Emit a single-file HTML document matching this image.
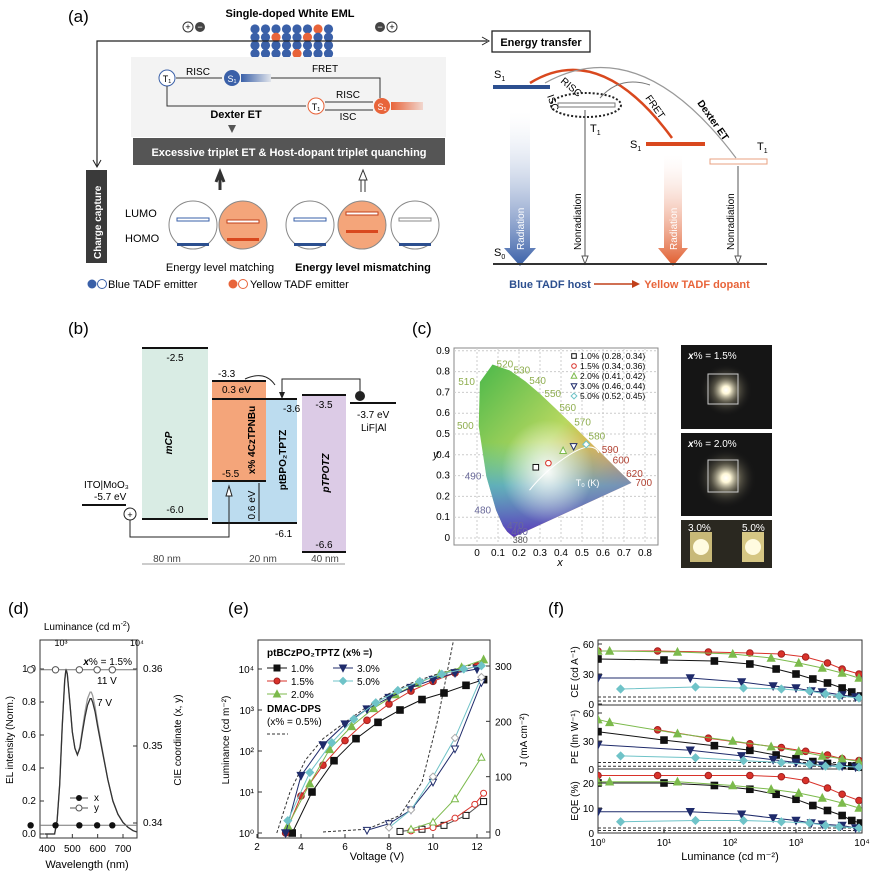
<!DOCTYPE html>
<html><head><meta charset="utf-8"><style>
html,body{margin:0;padding:0;background:#fff}
svg{display:block;font-family:"Liberation Sans",sans-serif}
</style></head><body>
<svg id="fig" width="880" height="879" viewBox="0 0 880 879" xmlns="http://www.w3.org/2000/svg">
<defs>
<linearGradient id="gBlueDown" x1="0" y1="0" x2="0" y2="1"><stop offset="0" stop-color="#fff" stop-opacity="0.2"/><stop offset="1" stop-color="#3a60a8"/></linearGradient>
<linearGradient id="gOrDown" x1="0" y1="0" x2="0" y2="1"><stop offset="0" stop-color="#fff" stop-opacity="0.2"/><stop offset="1" stop-color="#e05a2a"/></linearGradient>
<linearGradient id="gBlueR" x1="0" x2="1"><stop offset="0" stop-color="#3a60a8"/><stop offset="1" stop-color="#3a60a8" stop-opacity="0.1"/></linearGradient>
<linearGradient id="gOrR" x1="0" x2="1"><stop offset="0" stop-color="#e8643a"/><stop offset="1" stop-color="#e8643a" stop-opacity="0.2"/></linearGradient>
<linearGradient id="gCie" x1="0" y1="0" x2="1" y2="1"><stop offset="0" stop-color="#4bb84a"/><stop offset="0.45" stop-color="#b8d860"/><stop offset="0.7" stop-color="#f5a050"/><stop offset="1" stop-color="#e8305a"/></linearGradient>
<linearGradient id="gCieB" x1="0" y1="0" x2="0" y2="1"><stop offset="0.45" stop-color="#30c0d0" stop-opacity="0"/><stop offset="0.7" stop-color="#40a0e0" stop-opacity="0.7"/><stop offset="1" stop-color="#5030c0" stop-opacity="0.95"/></linearGradient>
<radialGradient id="gCieW" cx="0.45" cy="0.62" r="0.3"><stop offset="0" stop-color="#fff" stop-opacity="0.95"/><stop offset="1" stop-color="#fff" stop-opacity="0"/></radialGradient>
<radialGradient id="gGlow" cx="0.5" cy="0.5" r="0.5"><stop offset="0" stop-color="#fff"/><stop offset="0.15" stop-color="#fff8d8"/><stop offset="0.5" stop-color="#7a7560" stop-opacity="0.6"/><stop offset="1" stop-color="#1a1a1a" stop-opacity="0"/></radialGradient>
<clipPath id="clipE"><rect x="258" y="640" width="232" height="198"/></clipPath>
<clipPath id="clipD"><rect x="40" y="640" width="97" height="198"/></clipPath>
<clipPath id="clipF"><rect x="598" y="640" width="264" height="193"/></clipPath>
</defs>

<!-- ===== Panel (a) ===== -->
<g font-size="11">
<text x="68" y="22" font-size="17">(a)</text>
<text x="290" y="17" text-anchor="middle" font-weight="bold" font-size="11">Single-doped White EML</text>
<g><circle cx="188" cy="27" r="5" fill="#fff" stroke="#333"/><text x="188" y="30" font-size="9" text-anchor="middle">+</text><circle cx="200" cy="27" r="5" fill="#444"/><text x="200" y="30" font-size="9" fill="#fff" text-anchor="middle">−</text></g>
<g><circle cx="380" cy="27" r="5" fill="#444"/><text x="380" y="30" font-size="9" fill="#fff" text-anchor="middle">−</text><circle cx="392" cy="27" r="5" fill="#fff" stroke="#333"/><text x="392" y="30" font-size="9" text-anchor="middle">+</text></g>
<g id="dots"></g>
<path d="M97,166 V41 H487" fill="none" stroke="#222" stroke-width="1.2"/>
<path d="M482,37 L489,41 L482,45" fill="none" stroke="#222"/>
<path d="M93,160 L97,167 L101,160" fill="none" stroke="#222"/>
<rect x="492" y="31" width="98" height="21" fill="#fff" stroke="#222" stroke-width="1.3"/>
<text x="541" y="46" text-anchor="middle" font-weight="bold" font-size="11">Energy transfer</text>
<rect x="86" y="170" width="21" height="93" fill="#3a3a3a"/>
<text transform="translate(101,259) rotate(-90)" fill="#fff" font-weight="bold" font-size="10">Charge capture</text>
<rect x="131" y="57" width="315" height="80" fill="#f3f3f3"/>
<circle cx="167" cy="78" r="8" fill="#fff" stroke="#3a60a8"/><text x="167" y="82" text-anchor="middle" font-size="9">T₁</text>
<text x="198" y="75" font-size="10" text-anchor="middle">RISC</text>
<line x1="176" y1="78" x2="222" y2="78" stroke="#333"/>
<circle cx="232" cy="78" r="8" fill="#3a60a8"/><text x="232" y="82" text-anchor="middle" font-size="9" fill="#fff">S₁</text>
<rect x="241" y="74" width="30" height="8" fill="url(#gBlueR)"/>
<path d="M271,78 H380 V98" fill="none" stroke="#333"/><text x="325" y="72" font-size="10" text-anchor="middle">FRET</text>
<path d="M167,86 V106 H306" fill="none" stroke="#333"/>
<circle cx="316" cy="106" r="8" fill="#fff" stroke="#e8643a"/><text x="316" y="110" text-anchor="middle" font-size="9">T₁</text>
<circle cx="382" cy="106" r="8" fill="#e8643a"/><text x="382" y="110" text-anchor="middle" font-size="9" fill="#fff">S₁</text>
<line x1="325" y1="102" x2="373" y2="102" stroke="#333"/><line x1="325" y1="110" x2="373" y2="110" stroke="#333"/>
<text x="348" y="98" font-size="10" text-anchor="middle">RISC</text><text x="348" y="120" font-size="10" text-anchor="middle">ISC</text>
<rect x="391" y="102" width="32" height="8" fill="url(#gOrR)"/>
<text x="236" y="118" font-weight="bold" font-size="11" text-anchor="middle">Dexter ET</text>
<path d="M228,125 L236,125 L232,133 Z" fill="#555"/>
<rect x="133" y="138" width="312" height="27" fill="#555"/>
<text x="289" y="156" text-anchor="middle" fill="#fff" font-weight="bold" font-size="11">Excessive triplet ET &amp; Host-dopant triplet quanching</text>
<path d="M216,182 L220,172 L224,182 M220,172 V190" stroke="#333" stroke-width="3" fill="none"/>
<path d="M359,180 L363,170 L367,180 Z M361,180 V192 M365,180 V192" stroke="#333" fill="none"/>
<g>
<text x="125" y="217" font-size="11">LUMO</text><text x="125" y="242" font-size="11">HOMO</text>
<circle cx="193" cy="225" r="24" fill="#fff" stroke="#888"/><circle cx="243" cy="225" r="24" fill="#f4a57a" stroke="#888"/>
<circle cx="310" cy="225" r="24" fill="#fff" stroke="#888"/><circle cx="362" cy="225" r="24" fill="#f4a57a" stroke="#888"/><circle cx="415" cy="225" r="24" fill="#fff" stroke="#888"/>
<rect x="177" y="218" width="32" height="3" fill="#fff" stroke="#3a60a8"/><rect x="177" y="243" width="32" height="3" fill="#2c4f8f"/>
<rect x="227" y="220" width="32" height="3" fill="#fff" stroke="#c0401a"/><rect x="227" y="238" width="32" height="3" fill="#d9481e"/>
<rect x="294" y="218" width="32" height="3" fill="#fff" stroke="#3a60a8"/><rect x="294" y="243" width="32" height="3" fill="#2c4f8f"/>
<rect x="346" y="212" width="32" height="3" fill="#fff" stroke="#c0401a"/><rect x="346" y="230" width="32" height="3" fill="#d9481e"/>
<rect x="399" y="218" width="32" height="3" fill="#fff" stroke="#888"/><rect x="399" y="243" width="32" height="3" fill="#2c4f8f"/>
</g>
<text x="220" y="271" text-anchor="middle" font-size="11">Energy level matching</text>
<text x="363" y="271" text-anchor="middle" font-size="11" font-weight="bold">Energy level mismatching</text>
<g>
<circle cx="92" cy="284" r="4.5" fill="#3a60a8"/><circle cx="102" cy="284" r="4.5" fill="#fff" stroke="#3a60a8"/><text x="108" y="288" font-size="11">Blue TADF emitter</text>
<circle cx="233" cy="284" r="4.5" fill="#e8643a"/><circle cx="243" cy="284" r="4.5" fill="#fff" stroke="#e8643a"/><text x="250" y="288" font-size="11">Yellow TADF emitter</text>
</g>
<g>
<text x="494" y="78" font-size="11">S<tspan font-size="7" dy="3">1</tspan></text>
<rect x="493" y="85" width="57" height="4" fill="#2c4f8f"/>
<ellipse cx="586" cy="105" rx="35" ry="12" fill="none" stroke="#222" stroke-width="2" stroke-dasharray="2,2"/>
<rect x="558" y="103" width="57" height="4" fill="#fff" stroke="#777"/>
<text x="590" y="132" font-size="11">T<tspan font-size="7" dy="3">1</tspan></text>
<path d="M510,112 L530,112 L530,248 L536,248 L520,266 L504,248 L510,248 Z" fill="url(#gBlueDown)"/>
<text transform="translate(524,250) rotate(-90)" fill="#fff" font-size="10">Radiation</text>
<line x1="585" y1="110" x2="585" y2="262" stroke="#555"/><path d="M582,256 L585,264 L588,256 Z" fill="#fff" stroke="#555"/>
<text transform="translate(581,250) rotate(-90)" font-size="10">Nonradiation</text>
<text x="630" y="148" font-size="11">S<tspan font-size="7" dy="3">1</tspan></text>
<rect x="646" y="142" width="59" height="4" fill="#d9481e"/>
<rect x="710" y="159" width="57" height="5" fill="#fff" stroke="#e8a080"/>
<text x="757" y="150" font-size="11">T<tspan font-size="7" dy="3">1</tspan></text>
<path d="M664,155 L682,155 L682,248 L688,248 L673,266 L658,248 L664,248 Z" fill="url(#gOrDown)"/>
<text transform="translate(677,250) rotate(-90)" fill="#fff" font-size="10">Radiation</text>
<line x1="738" y1="166" x2="738" y2="262" stroke="#555"/><path d="M735,256 L738,264 L741,256 Z" fill="#fff" stroke="#555"/>
<text transform="translate(734,250) rotate(-90)" font-size="10">Nonradiation</text>
<rect x="493" y="263" width="274" height="2" fill="#333"/>
<text x="494" y="256" font-size="11">S<tspan font-size="7" dy="3">0</tspan></text>
<path d="M530,83 Q600,40 672,138" fill="none" stroke="#d9481e" stroke-width="2.5"/>
<path d="M545,83 Q640,30 736,158" fill="none" stroke="#999" stroke-width="1.2"/>
<path d="M600,98 Q620,75 650,85" fill="none" stroke="#777"/>
<text transform="translate(645,98) rotate(55)" font-size="10">FRET</text>
<text transform="translate(697,103) rotate(55)" font-size="10" font-weight="bold">Dexter ET</text>
<text transform="translate(560,82) rotate(40)" font-size="10">RISC</text>
<text transform="translate(547,96) rotate(70)" font-size="10">ISC</text>
<text x="550" y="288" font-size="11" font-weight="bold" fill="#2c4f8f" text-anchor="middle">Blue TADF host</text>
<line x1="594" y1="284" x2="636" y2="284" stroke="#c0401a" stroke-width="1.5"/><path d="M632,280 L640,284 L632,288 Z" fill="#c0401a"/>
<text x="697" y="288" font-size="11" font-weight="bold" fill="#e8643a" text-anchor="middle">Yellow TADF dopant</text>
</g>
</g>

<!-- ===== Panel (b) ===== -->
<g font-size="10">
<text x="68" y="334" font-size="17">(b)</text>
<rect x="142" y="348" width="66" height="171" fill="#d9ece4"/>
<line x1="142" y1="348" x2="208" y2="348" stroke="#111" stroke-width="2"/><line x1="142" y1="519" x2="208" y2="519" stroke="#111" stroke-width="2"/>
<text x="175" y="361" text-anchor="middle">-2.5</text><text x="175" y="513" text-anchor="middle">-6.0</text>
<text transform="translate(172,443) rotate(-90)" font-weight="bold" font-style="italic" font-size="10" text-anchor="middle">mCP</text>
<rect x="212" y="399" width="85" height="124" fill="#bcdcef"/>
<rect x="212" y="381" width="54" height="100" fill="#f4a57a"/>
<line x1="212" y1="381" x2="266" y2="381" stroke="#111" stroke-width="2"/><line x1="212" y1="399" x2="297" y2="399" stroke="#111" stroke-width="2"/>
<line x1="212" y1="481" x2="266" y2="481" stroke="#111" stroke-width="2"/><line x1="212" y1="523" x2="297" y2="523" stroke="#111" stroke-width="2"/>
<text x="218" y="377">-3.3</text><text x="222" y="393">0.3 eV</text><text x="222" y="477">-5.5</text><text x="283" y="412">-3.6</text><text x="275" y="537">-6.1</text>
<text transform="translate(255,440) rotate(-90)" font-weight="bold" font-size="10" text-anchor="middle">x% 4CzTPNBu</text>
<text transform="translate(286,460) rotate(-90)" font-weight="bold" font-size="10" text-anchor="middle">ptBPO₂TPTZ</text>
<text transform="translate(255,505) rotate(-90)" font-size="10" text-anchor="middle">0.6 eV</text>
<line x1="259" y1="483" x2="259" y2="521" stroke="#111"/>
<rect x="302" y="395" width="44" height="157" fill="#dccbe6"/>
<line x1="302" y1="395" x2="346" y2="395" stroke="#111" stroke-width="2"/><line x1="302" y1="552" x2="346" y2="552" stroke="#111" stroke-width="2"/>
<text x="324" y="408" text-anchor="middle">-3.5</text><text x="324" y="548" text-anchor="middle">-6.6</text>
<text transform="translate(329,473) rotate(-90)" font-weight="bold" font-style="italic" font-size="10" text-anchor="middle">pTPOTZ</text>
<line x1="350" y1="403" x2="396" y2="403" stroke="#111" stroke-width="2"/><circle cx="360" cy="396" r="5" fill="#222"/>
<path d="M360,391 V379 H282 V392" fill="none" stroke="#222"/><path d="M279,392 L282,399 L285,392 Z" fill="#222"/>
<path d="M275,385 Q265,370 245,379" fill="none" stroke="#222"/>
<text x="357" y="418">-3.7 eV</text><text x="361" y="431">LiF|Al</text>
<line x1="82" y1="505" x2="126" y2="505" stroke="#111" stroke-width="2"/>
<text x="84" y="488">ITO|MoO₃</text><text x="94" y="500">-5.7 eV</text>
<circle cx="130" cy="514" r="6" fill="#fff" stroke="#222"/><text x="130" y="518" text-anchor="middle" font-size="9">+</text>
<path d="M130,520 V537 H229 V490" fill="none" stroke="#222"/><path d="M226,496 L229,486 L232,496 Z" fill="#fff" stroke="#222"/>
<g fill="#444" font-size="10">
<line x1="142" y1="564" x2="345" y2="564" stroke="#999"/>
<text x="167" y="562" text-anchor="middle">80 nm</text><text x="263" y="562" text-anchor="middle">20 nm</text><text x="325" y="562" text-anchor="middle">40 nm</text>
</g>
</g>

<!-- ===== Panel (c) ===== -->
<g font-size="10">
<text x="412" y="334" font-size="17">(c)</text>
<rect x="454" y="348" width="204" height="197" fill="#fff" stroke="#888"/>
<g id="cieGrid"></g>
<path id="locus" fill="url(#gCie)"/>
<path id="locusB" fill="url(#gCieB)"/>
<path id="locusW" fill="url(#gCieW)"/>
<g id="cieAx"></g>
<text x="433" y="458" font-size="11" font-style="italic">y</text>
<text x="560" y="566" font-size="11" font-style="italic" text-anchor="middle">x</text>
<g id="cieLeg"></g>
<g>
<rect x="681" y="345" width="91" height="84" fill="#151515"/><circle cx="726" cy="390" r="26" fill="url(#gGlow)"/><rect x="708" y="374" width="30" height="30" fill="none" stroke="#ccc"/>
<text x="688" y="359" fill="#fff" font-size="10"><tspan font-weight="bold" font-style="italic">x</tspan>% = 1.5%</text>
<rect x="681" y="433" width="91" height="83" fill="#151515"/><circle cx="726" cy="478" r="30" fill="url(#gGlow)"/><rect x="708" y="460" width="30" height="32" fill="none" stroke="#ccc"/>
<text x="688" y="447" fill="#fff" font-size="10"><tspan font-weight="bold" font-style="italic">x</tspan>% = 2.0%</text>
<rect x="681" y="520" width="91" height="48" fill="#2a2820"/><rect x="690" y="532" width="22" height="30" fill="#c8b978"/><rect x="742" y="532" width="22" height="30" fill="#d6c784"/>
<circle cx="701" cy="547" r="8" fill="#fffbe0"/><circle cx="753" cy="547" r="8" fill="#fffbe0"/>
<text x="688" y="531" fill="#fff" font-size="10">3.0%</text><text x="742" y="531" fill="#fff" font-size="10">5.0%</text>
</g>
</g>

<!-- ===== Panel (d) ===== -->
<g font-size="10">
<text x="8" y="614" font-size="17">(d)</text>
<rect x="40" y="640" width="97" height="198" fill="none" stroke="#333"/>
<g id="dPlot"></g>
<text x="87" y="630" text-anchor="middle" font-size="10">Luminance (cd m<tspan font-size="7" dy="-4">-2</tspan><tspan dy="4">)</tspan></text>
<text transform="translate(13,740) rotate(-90)" text-anchor="middle">EL intensity (Norm.)</text>
<text transform="translate(181,740) rotate(-90)" text-anchor="middle">CIE coordinate (x, y)</text>
<text x="87" y="868" text-anchor="middle" font-size="11">Wavelength (nm)</text>
<text x="132" y="665" text-anchor="end"><tspan font-weight="bold" font-style="italic">x</tspan>% = 1.5%</text>
<text x="97" y="684">11 V</text><text x="97" y="706">7 V</text>
</g>

<!-- ===== Panel (e) ===== -->
<g font-size="10">
<text x="228" y="614" font-size="17">(e)</text>
<rect x="258" y="640" width="232" height="198" fill="none" stroke="#333"/>
<g id="ePlot"></g>
<text transform="translate(229,740) rotate(-90)" text-anchor="middle">Luminance (cd m⁻²)</text>
<text transform="translate(527,740) rotate(-90)" text-anchor="middle">J (mA cm⁻²)</text>
<text x="377" y="860" text-anchor="middle" font-size="11">Voltage (V)</text>
<g id="eLeg"></g>
</g>

<!-- ===== Panel (f) ===== -->
<g font-size="10">
<text x="548" y="614" font-size="17">(f)</text>
<rect x="598" y="640" width="264" height="193" fill="none" stroke="#333"/>
<line x1="598" y1="705" x2="862" y2="705" stroke="#333"/><line x1="598" y1="769" x2="862" y2="769" stroke="#333"/>
<g id="fPlot"></g>
<text transform="translate(578,672) rotate(-90)" text-anchor="middle">CE (cd A⁻¹)</text>
<text transform="translate(578,737) rotate(-90)" text-anchor="middle">PE (lm W⁻¹)</text>
<text transform="translate(578,801) rotate(-90)" text-anchor="middle">EQE (%)</text>
<text x="730" y="860" text-anchor="middle" font-size="11">Luminance (cd m⁻²)</text>
</g>
</svg>

<script>
// ---------- data ----------
const colors = ['#111111','#d9322a','#7cba4c','#1f2b6b','#6fc3c8'];
const seriesNames = ['1.0%','1.5%','2.0%','3.0%','5.0%'];
const markerTypes = ['square','circle','tri','itri','diamond'];
// (d)
const elWavelength = [390,420,430,440,450,460,470,475,480,490,500,510,520,530,540,550,560,570,575,580,590,600,620,640,660,680,700,720,740,760];
const elSpec7V =  [0,0,0,0.08,0.3,0.65,0.93,1.0,0.97,0.8,0.62,0.52,0.48,0.52,0.62,0.71,0.78,0.82,0.82,0.8,0.74,0.65,0.49,0.33,0.2,0.12,0.07,0.04,0.02,0.01];
const elSpec11V = [0,0,0,0.08,0.3,0.65,0.93,1.0,0.97,0.8,0.62,0.52,0.48,0.53,0.64,0.74,0.82,0.86,0.86,0.84,0.77,0.67,0.5,0.33,0.2,0.12,0.07,0.04,0.02,0.01];
const cieLum = [800,1700,3500,6000,9500];
const cieX = [0.3397,0.3397,0.3397,0.3397,0.3397];
const cieY = [0.3599,0.3599,0.3599,0.3599,0.3599];
const dLeftTicks = ['0.0','0.2','0.4','0.6','0.8','1.0'];
const dLeftVals = [0,0.2,0.4,0.6,0.8,1.0];
const dRightVals = [0.34,0.35,0.36];
const dBottomVals = [400,500,600,700];
// (e)
const eLumV = [
 [3.6,4.5,5.5,6.5,7.5,8.5,9.5,10.5,11.5,12.3],
 [3.3,4,5,6,7,8,9,10,11,12],
 [3.4,4.4,5.3,6.3,7.3,8.3,9.3,10.3,11.3,12.3],
 [3.3,4,5,6,7,8,9,10,11,12],
 [3.4,4.4,5.4,6.4,7.4,8.4,9.4,10.4,11.4,12.2]];
const eLum = [
 [1,10,58,200,500,1000,1800,2600,4000,5500],
 [1,8,45,180,560,1400,2900,5000,8000,12000],
 [1.5,16,110,400,1100,2400,4500,7500,11000,17000],
 [1,25,140,450,1050,2000,3500,5500,8000,10000],
 [2,30,160,600,1500,3000,5000,7500,10000,12000]];
const eJV = [
 [8.5,9.5,10.5,11.5,12.3],
 [9,10,11,11.9,12.3],
 [9,10,11,12.2],
 [7,8,9,10,11,12.2],
 [8,9,10,11,12.2]];
const eJ = [
 [1,5,12,30,55],
 [2,8,25,50,70],
 [5,18,60,135],
 [3,15,40,90,150,270],
 [8,40,100,170,280]];
const dmacLumV = [2.9,3.5,4.2,5,6,7,8,9,10,11,12.3];
const dmacLum = [1,10,60,200,500,1200,2500,4500,7000,10000,15000];
const dmacJV = [5,7,8.5,9.5,10.2,10.8,11.2];
const dmacJ = [0,5,30,90,200,320,400];
const eXTicks = [2,4,6,8,10,12];
const eYTicks = [0,1,2,3,4];
const eJTicks = [0,100,200,300];
// (f)
const fL = [
 [1,10,58,200,500,1000,1800,3000,5000,7000,9500],
 [1,8,47,200,600,1400,3000,5000,9000],
 [1,1.5,16,110,420,1100,2500,5000,9000],
 [1,25,150,450,1000,1700,2500,5000,8000],
 [2.2,30,160,600,1600,2800,4500,9000]];
const fLpe = [
 [1,10,58,200,500,1000,1800,3000,5000,7000,9500],
 [8,47,200,600,1400,3000,5000,9000],
 [1,1.5,16,110,420,1100,2500,5000,9000],
 [1,25,150,450,1000,1700,2500,5000,8000],
 [2.2,30,160,600,1600,2800,4500,9000]];
const ceVals = [
 [45,44,43,40,35,30,25,21,16,12,8],
 [53,53,52,51,50,47,41,35,30],
 [53,53,52,50,46,41,36,31,26],
 [26,26,22,18,16,13,12,9,7],
 [15,17,16,15,13,10,8,6]];
const peVals = [
 [40,31,25,20,15,11,8,6,4,3,2],
 [42,33,27,23,19,15,11,9],
 [53,50,38,30,24,19,14,11,8],
 [26,20,14,10,7,5,4,3,2],
 [14,12,9,7,5,3,3,2]];
const eqeVals = [
 [20,20,19,17.5,15.5,13.5,11,9,7,5,4],
 [23,23,23,23,22.5,21,18,15.5,13],
 [20.5,20.5,20.5,19,17.5,16,14,12,10],
 [8.5,8.5,7.5,6,5,4,3.5,3,2],
 [4.5,5,5,4.5,4,3,2.5,2]];
const dmacCE = [7,3]; const dmacPE = [7,3]; const dmacEQE = [2,1];
const fXTicks = [0,1,2,3,4];
const ceTicks = [0,30,60]; const peTicks = [0,30,60]; const eqeTicks = [0,10,20];
// (c)
const locusX = [0.174,0.144,0.124,0.091,0.045,0.008,0.014,0.074,0.155,0.230,0.302,0.373,0.444,0.512,0.575,0.627,0.691,0.735];
const locusY = [0.005,0.030,0.058,0.133,0.295,0.538,0.750,0.834,0.806,0.754,0.692,0.624,0.555,0.487,0.424,0.372,0.308,0.265];
const locusNm = ['380','460','470','480','490','500','510','520','530','540','550','560','570','580','590','600','620','700'];
const devCIEx = [0.28,0.34,0.41,0.46,0.52];
const devCIEy = [0.34,0.36,0.42,0.44,0.45];
const cieTicksX = [0,0.1,0.2,0.3,0.4,0.5,0.6,0.7,0.8];
const cieTicksY = [0,0.1,0.2,0.3,0.4,0.5,0.6,0.7,0.8,0.9];

// ---------- helpers ----------
const NS='http://www.w3.org/2000/svg';
function mk(parent, tag, attrs, text){const e=document.createElementNS(NS,tag);for(const k in attrs)e.setAttribute(k,attrs[k]);if(text!==undefined)e.textContent=text;parent.appendChild(e);return e;}
function pathD(xs,ys){return xs.map((x,i)=>(i?'L':'M')+x.toFixed(1)+','+ys[i].toFixed(1)).join(' ');}
function marker(g,type,x,y,col,filled,s){
  s=s||3.3;const f=filled?col:'#fff';let e;
  if(type==='square')e=mk(g,'rect',{x:x-s,y:y-s,width:2*s,height:2*s,fill:f,stroke:col});
  else if(type==='circle')e=mk(g,'circle',{cx:x,cy:y,r:s,fill:f,stroke:filled?'#a02020':col});
  else if(type==='tri')e=mk(g,'path',{d:`M${x},${y-s-0.7}L${x+s+0.5},${y+s}L${x-s-0.5},${y+s}Z`,fill:f,stroke:col});
  else if(type==='itri')e=mk(g,'path',{d:`M${x},${y+s+0.7}L${x+s+0.5},${y-s}L${x-s-0.5},${y-s}Z`,fill:f,stroke:col});
  else e=mk(g,'path',{d:`M${x},${y-s-0.6}L${x+s+0.6},${y}L${x},${y+s+0.6}L${x-s-0.6},${y}Z`,fill:f,stroke:col});
  return e;
}

// ---------- (a) dots ----------
(function(){
  const g=document.getElementById('dots');
  const orange=[[0,6],[1,2],[1,5],[3,4]];
  for(let r=0;r<4;r++)for(let c=0;c<8;c++){
    const isO=orange.some(p=>p[0]===r&&p[1]===c);
    const d=mk(g,'circle',{cx:255+c*10.5,cy:29+r*8.2,r:4.6,fill:isO?'#e8643a':'#3a60a8'});
    
    
  }
})();

// ---------- (c) CIE ----------
const cx=v=>477+210*v, cy=v=>538-208*v;
(function(){
  const gg=document.getElementById('cieGrid');
  cieTicksX.forEach(v=>{mk(gg,'line',{x1:cx(v),y1:348,x2:cx(v),y2:545,stroke:'#ccc','stroke-dasharray':'2,2'});});
  cieTicksY.forEach(v=>{mk(gg,'line',{x1:454,y1:cy(v),x2:658,y2:cy(v),stroke:'#ccc','stroke-dasharray':'2,2'});});
  const d=pathD(locusX.map(cx),locusY.map(cy))+'Z';
  ['locus','locusB','locusW'].forEach(id=>document.getElementById(id).setAttribute('d',d));
  const ga=document.getElementById('cieAx');
  cieTicksX.forEach(v=>{const t=mk(ga,'text',{x:cx(v),y:556,'text-anchor':'middle','font-size':10},String(v));
    
    });
  cieTicksY.forEach(v=>{const t=mk(ga,'text',{x:450,y:cy(v)+3,'text-anchor':'end','font-size':10},String(v));
    
    });
  locusNm.forEach((n,i)=>{if(n==='380')return;const x=cx(locusX[i]),y=cy(locusY[i]);
    const left=locusX[i]<0.1&&locusY[i]<0.8;
    const col=locusY[i]>0.45?'#8fae50':(locusX[i]>0.5?'#b04030':'#6a6a9a');
    const t=mk(ga,'text',{x:left?x-5:x+4,y:y+3,'text-anchor':left?'end':'start','font-size':10,fill:col},n);
    
    });
  mk(ga,'text',{x:cx(0.17),y:cy(-0.01)+3,'font-size':9,fill:'#555'},'380');
  mk(ga,'text',{x:cx(0.47),y:cy(0.25),'font-size':9,fill:'#fff'},'T₀ (K)');
  mk(ga,'path',{d:`M${cx(0.25)},${cy(0.23)} Q${cx(0.33)},${cy(0.33)} ${cx(0.44)},${cy(0.40)} T${cx(0.58)},${cy(0.41)}`,fill:'none',stroke:'#fff'});
  const gl=document.getElementById('cieLeg');
  devCIEx.forEach((v,i)=>{const m=marker(gl,markerTypes[i],cx(v),cy(devCIEy[i]),i===0?'#111':colors[i],false,2.8);
    
    
    marker(gl,markerTypes[i],574,356+i*10,i===0?'#111':colors[i],false,2.3);
    const t=mk(gl,'text',{x:580,y:359+i*10,'font-size':8.5},seriesNames[i]+' ('+v.toFixed(2)+', '+devCIEy[i].toFixed(2)+')');
    
    });
})();

// ---------- (d) ----------
const xw=nm=>47+(nm-400)*76/300, yEL=v=>834-165*v, xl=L=>61+76*Math.log10(L/1000), yc=c=>823-7700*(c-0.34);
(function(){
  const g=document.getElementById('dPlot');
  dLeftVals.forEach((v,i)=>{mk(g,'line',{x1:40,y1:yEL(v),x2:44,y2:yEL(v),stroke:'#333'});
    const t=mk(g,'text',{x:36,y:yEL(v)+3,'text-anchor':'end'},dLeftTicks[i]);
    
    });
  dRightVals.forEach(v=>{mk(g,'line',{x1:133,y1:yc(v),x2:137,y2:yc(v),stroke:'#333'});
    const t=mk(g,'text',{x:143,y:yc(v)+3},v.toFixed(2));
    
    });
  dBottomVals.forEach(v=>{mk(g,'line',{x1:xw(v),y1:838,x2:xw(v),y2:834,stroke:'#333'});
    const t=mk(g,'text',{x:xw(v),y:852,'text-anchor':'middle'},String(v));
    
    });
  [1000,10000].forEach((v,i)=>{const t=mk(g,'text',{x:xl(v),y:646,'text-anchor':'middle','font-size':9},i?'10⁴':'10³');
    
    });
  const cg=mk(g,'g',{'clip-path':'url(#clipD)'});
  const s1=mk(cg,'path',{d:pathD(elWavelength.map(xw),elSpec11V.map(yEL)),fill:'none',stroke:'#999',"stroke-width":1.3});
  
  
  const s2=mk(cg,'path',{d:pathD(elWavelength.map(xw),elSpec7V.map(yEL)),fill:'none',stroke:'#333',"stroke-width":1.3});
  
  
  const lx=mk(cg,'path',{d:pathD([40,137],[yc(cieX[0]),yc(cieX[0])]),stroke:'#777',fill:'none'});
  
  
  const ly=mk(cg,'path',{d:pathD([40,137],[yc(cieY[0]),yc(cieY[0])]),stroke:'#777',fill:'none'});
  
  
  cieLum.forEach((L,i)=>{
    const a=mk(g,'circle',{cx:xl(L)-23,cy:yc(cieX[i]),r:3.2,fill:'#111'});
    
    
    const b=mk(g,'circle',{cx:xl(L)-23,cy:yc(cieY[i]),r:3.2,fill:'#fff',stroke:'#555'});
    
    });
  mk(g,'line',{x1:70,y1:798,x2:88,y2:798,stroke:'#555'});mk(g,'circle',{cx:79,cy:798,r:3,fill:'#111'});mk(g,'text',{x:94,y:801},'x');
  mk(g,'line',{x1:70,y1:808,x2:88,y2:808,stroke:'#555'});mk(g,'circle',{cx:79,cy:808,r:3,fill:'#fff',stroke:'#555'});mk(g,'text',{x:94,y:811},'y');
})();

// ---------- (e) ----------
const xe=V=>257+22*(V-2), ye=L=>833-41*Math.log10(L), yj=J=>832-J*166/300;
(function(){
  const g=document.getElementById('ePlot');
  eXTicks.forEach(v=>{mk(g,'line',{x1:xe(v),y1:838,x2:xe(v),y2:834,stroke:'#333'});
    const t=mk(g,'text',{x:xe(v),y:850,'text-anchor':'middle'},String(v));
    
    });
  eYTicks.forEach(v=>{mk(g,'line',{x1:258,y1:ye(Math.pow(10,v)),x2:262,y2:ye(Math.pow(10,v)),stroke:'#333'});
    const t=mk(g,'text',{x:254,y:ye(Math.pow(10,v))+4,'text-anchor':'end'},'10'+['⁰','¹','²','³','⁴'][v]);
    
    });
  eJTicks.forEach(v=>{mk(g,'line',{x1:486,y1:yj(v),x2:490,y2:yj(v),stroke:'#333'});
    const t=mk(g,'text',{x:495,y:yj(v)+4},String(v));
    
    });
  const cg=mk(g,'g',{'clip-path':'url(#clipE)'});
  const d1=mk(cg,'path',{d:pathD(dmacLumV.map(xe),dmacLum.map(ye)),fill:'none',stroke:'#333','stroke-dasharray':'3,2'});
  
  
  const d2=mk(cg,'path',{d:pathD(dmacJV.map(xe),dmacJ.map(yj)),fill:'none',stroke:'#333','stroke-dasharray':'3,2'});
  
  
  for(let s=0;s<5;s++){
    const col=colors[s];
    const lj=mk(cg,'path',{d:pathD(eJV[s].map(xe),eJ[s].map(yj)),fill:'none',stroke:s===0?'#555':col});
    
    
    eJV[s].forEach((v,i)=>{const m=marker(cg,markerTypes[s],xe(v),yj(eJ[s][i]),s===4?'#aaa':col,false,3);
      
      });
    const ll=mk(cg,'path',{d:pathD(eLumV[s].map(xe),eLum[s].map(ye)),fill:'none',stroke:col});
    
    
    eLumV[s].forEach((v,i)=>{const m=marker(cg,markerTypes[s],xe(v),ye(eLum[s][i]),col,true,3.3);
      
      });
  }
  const lg=document.getElementById('eLeg');
  
  
  mk(lg,'text',{x:267,y:656,'font-weight':'bold','font-size':10},'ptBCzPO₂TPTZ (x% =)');
  const pos=[[267,668],[267,681],[267,694],[333,668],[333,681]];
  for(let s=0;s<5;s++){const [x,y]=pos[s];
    mk(lg,'line',{x1:x,y1:y,x2:x+20,y2:y,stroke:colors[s]});marker(lg,markerTypes[s],x+10,y,colors[s],true,3);
    mk(lg,'text',{x:x+24,y:y+4,'font-size':10},seriesNames[s]);}
  mk(lg,'text',{x:267,y:712,'font-weight':'bold','font-size':10},'DMAC-DPS');
  mk(lg,'text',{x:267,y:725,'font-size':10},'(x% = 0.5%)');
  mk(lg,'line',{x1:267,y1:734,x2:288,y2:734,stroke:'#333','stroke-dasharray':'3,2'});
})();

// ---------- (f) ----------
const xf=L=>598+66*Math.log10(L), yCE=v=>704-v, yPE=v=>769-v*56/60, yEQE=v=>833-v*2.5;
(function(){
  const g=document.getElementById('fPlot');
  fXTicks.forEach(v=>{mk(g,'line',{x1:xf(Math.pow(10,v)),y1:833,x2:xf(Math.pow(10,v)),y2:829,stroke:'#333'});
    const t=mk(g,'text',{x:xf(Math.pow(10,v)),y:846,'text-anchor':'middle'},'10'+['⁰','¹','²','³','⁴'][v]);
    
    });
  const panels=[[ceTicks,yCE,ceVals,dmacCE,'ce',fL],[peTicks,yPE,peVals,dmacPE,'pe',fLpe],[eqeTicks,yEQE,eqeVals,dmacEQE,'eqe',fL]];
  const cg=mk(g,'g',{'clip-path':'url(#clipF)'});
  panels.forEach(([ticks,yf,vals,dm,nm,Ls])=>{
    ticks.forEach(v=>{mk(g,'line',{x1:598,y1:yf(v),x2:602,y2:yf(v),stroke:'#333'});
      const t=mk(g,'text',{x:594,y:yf(v)+4,'text-anchor':'end'},String(v));
      
      });
    dm.forEach(v=>{const l=mk(cg,'line',{x1:598,y1:yf(v),x2:862,y2:yf(v),stroke:'#333','stroke-dasharray':'3,2'});
      
      });
    for(let s=0;s<5;s++){
      const p=mk(cg,'path',{d:pathD(Ls[s].map(xf),vals[s].map(yf)),fill:'none',stroke:colors[s]});
      
      
      Ls[s].forEach((L,i)=>{const m=marker(cg,markerTypes[s],xf(L),yf(vals[s][i]),colors[s],true,3.3);
        
        });
    }
  });
})();
</script>
</body></html>
